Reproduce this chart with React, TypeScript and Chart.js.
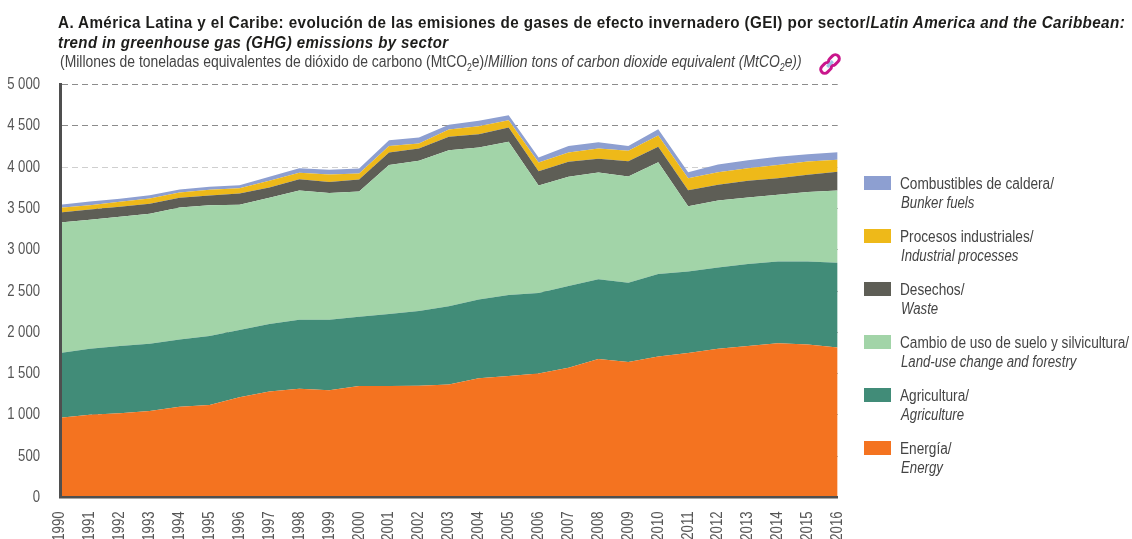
import React, { useEffect, useRef } from "react";
import { Chart, registerables } from "chart.js";

Chart.register(...registerables);

const SANS = '"Liberation Sans", Arial, sans-serif';
const TICK_SQUEEZE = 0.82;

const years = ["1990","1991","1992","1993","1994","1995","1996","1997","1998","1999","2000","2001","2002","2003","2004","2005","2006","2007","2008","2009","2010","2011","2012","2013","2014","2015","2016"];
const energy = [967,1003,1019,1047,1100,1120,1213,1285,1318,1298,1350,1350,1354,1370,1443,1471,1503,1572,1677,1641,1709,1750,1802,1834,1867,1854,1818];
const agriculture = [783,799,815,815,815,835,815,816,835,855,839,872,904,948,956,981,973,989,968,960,997,988,985,993,993,1005,1025];
const landUse = [1581,1562,1566,1574,1598,1586,1517,1529,1566,1534,1518,1804,1820,1889,1840,1856,1303,1323,1292,1287,1356,791,811,807,806,840,876];
const waste = [122,125,121,121,117,117,138,125,137,133,145,153,149,162,162,174,174,182,165,186,186,194,190,202,202,210,226];
const industrial = [56,52,61,65,65,69,64,81,77,93,73,77,61,88,97,88,105,113,125,125,137,145,153,153,158,161,145];
const bunker = [36,45,36,40,36,36,36,48,56,56,60,72,72,57,64,61,60,77,77,57,76,73,93,97,100,89,93];

const series = [
  { es: "Energía/", en: "Energy", color: "#f47320", data: energy },
  { es: "Agricultura/", en: "Agriculture", color: "#418c78", data: agriculture },
  { es: "Cambio de uso de suelo y silvicultura/", en: "Land-use change and forestry", color: "#a2d4a8", data: landUse },
  { es: "Desechos/", en: "Waste", color: "#5e5e56", data: waste },
  { es: "Procesos industriales/", en: "Industrial processes", color: "#eeb919", data: industrial },
  { es: "Combustibles de caldera/", en: "Bunker fuels", color: "#8d9fd1", data: bunker },
];
const legendOrder = [...series].reverse();

const text = (left: number, top: number, scale: number): React.CSSProperties => ({
  position: "absolute",
  left,
  top,
  whiteSpace: "nowrap",
  transform: `scaleX(${scale})`,
  transformOrigin: "left top",
});

// The reference uses a condensed face; squeeze the tick text the axes draw along its own direction.
const condensedTicks = {
  id: "condensedTicks",
  beforeDraw: (c: any) => {
    const ctx = c.ctx;
    if (ctx.__condensed) return;
    const raw = ctx.fillText.bind(ctx);
    ctx.fillText = (s: string, x: number, y: number) => {
      ctx.save();
      ctx.scale(TICK_SQUEEZE, 1);
      raw(s, x / TICK_SQUEEZE, y);
      ctx.restore();
    };
    ctx.__condensed = true;
  },
};

export default function App() {
  const ref = useRef<HTMLCanvasElement>(null);
  useEffect(() => {
    const chart = new Chart(ref.current!, {
      type: "line",
      data: {
        labels: years,
        datasets: series.map((s, i) => ({
          label: s.en,
          data: s.data,
          backgroundColor: s.color,
          borderWidth: 0,
          pointRadius: 0,
          tension: 0,
          fill: i === 0 ? "origin" : "-1",
        })),
      },
      options: {
        animation: false,
        responsive: false,
        layout: { padding: { left: 0, top: 84.7, right: 294.3, bottom: 0 } },
        plugins: { legend: { display: false }, tooltip: { enabled: false } },
        scales: {
          x: {
            offset: false,
            grid: { display: false, drawTicks: false },
            border: { display: true, color: "#4f4f4f", width: 2.5, z: 1 },
            ticks: { autoSkip: false, minRotation: 90, maxRotation: 90, padding: 14, color: "#555", font: { family: SANS, size: 16 } },
            afterFit: (s: any) => { s.height = 41.5; },
          },
          y: {
            stacked: true,
            min: 0,
            max: 5000,
            grid: {
              drawTicks: false,
              color: (c: any) => (c.tick?.value === 4000 ? "#cfcfcf" : "#8c8c8c"),
              lineWidth: (c: any) => (c.tick?.value === 0 ? 0 : 1),
            },
            border: { display: true, color: "#4f4f4f", width: 3, dash: [6, 4], z: 1 },
            ticks: {
              stepSize: 500,
              padding: 20,
              color: "#555",
              font: { family: SANS, size: 16 },
              callback: (v: any) => (v >= 1000 ? `${Math.floor(v / 1000)} ${String(v % 1000).padStart(3, "0")}` : `${v}`),
            },
            afterFit: (s: any) => { s.width = 60; },
          },
        },
      },
      plugins: [condensedTicks],
    } as any);
    return () => chart.destroy();
  }, []);

  const sub = { fontSize: 10, lineHeight: 0 };
  return (
    <div style={{ position: "absolute", left: 0, top: 0, width: 1132, height: 539, overflow: "hidden", background: "#fff", fontFamily: SANS }}>
      <canvas ref={ref} width={1132} height={539} style={{ position: "absolute", left: 0, top: 0, display: "block" }} />
      <div style={{ ...text(58, 12, 0.923), fontSize: 16.5, fontWeight: 700, color: "#1d1d1b", letterSpacing: 0.42, lineHeight: "20px" }}>
        A. América Latina y el Caribe: evolución de las emisiones de gases de efecto invernadero (GEI) por sector/<i>Latin America and the Caribbean:</i>
      </div>
      <div style={{ ...text(58, 32, 0.911), fontSize: 16.5, fontWeight: 700, fontStyle: "italic", color: "#1d1d1b", letterSpacing: 0.42, lineHeight: "20px" }}>
        trend in greenhouse gas (GHG) emissions by sector
      </div>
      <div style={{ ...text(60, 52, 0.87), fontSize: 16, color: "#444", lineHeight: "20px" }}>
        (Millones de toneladas equivalentes de dióxido de carbono (MtCO<sub style={sub}>2</sub>e)/<i>Million tons of carbon dioxide equivalent (MtCO<sub style={sub}>2</sub>e))</i>
      </div>
      <svg style={{ position: "absolute", left: 817, top: 51 }} width="26" height="26" viewBox="0 0 26 26">
        <g transform="rotate(-45 13 13)" fill="none" strokeWidth="3">
          <rect x="1.5" y="9" width="12" height="8" rx="4" stroke="#c9168c" />
          <rect x="12.5" y="9" width="12" height="8" rx="4" stroke="#c9168c" />
          <line x1="9" y1="13" x2="17" y2="13" stroke="#9ec3e6" />
        </g>
      </svg>
      {legendOrder.map((s, i) => (
        <React.Fragment key={s.en}>
          <div style={{ position: "absolute", left: 864, top: 176 + 53 * i, width: 27, height: 14, background: s.color }} />
          <div style={{ ...text(900, 174 + 53 * i, 0.853), fontSize: 16, lineHeight: "19px", color: "#444" }}>{s.es}</div>
          <div style={{ ...text(901, 193 + 53 * i, 0.825), fontSize: 16, lineHeight: "19px", color: "#444", fontStyle: "italic" }}>{s.en}</div>
        </React.Fragment>
      ))}
    </div>
  );
}
